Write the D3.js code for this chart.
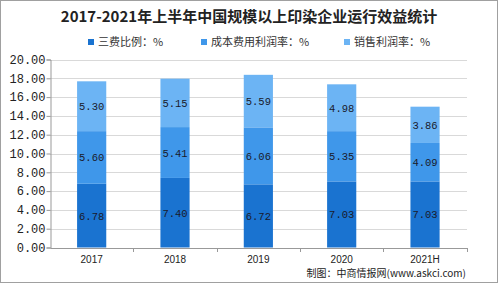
<!DOCTYPE html>
<html>
<head>
<meta charset="utf-8">
<script src="https://cdn.jsdelivr.net/npm/d3@7/dist/d3.min.js"></script>
<style>
  body { margin: 0; background: #fff; }
  svg { display: block; }
</style>
</head>
<body>
<div id="chart"></div>
<script>
const years = ['2017', '2018', '2019', '2020', '2021H'];
const sanfei = [6.78, 7.40, 6.72, 7.03, 7.03];      // 三费比例
const chengben = [5.60, 5.41, 6.06, 5.35, 4.09];    // 成本费用利润率
const xiaoshou = [5.30, 5.15, 5.59, 4.98, 3.86];    // 销售利润率
const seriesNames = ['三费比例：%', '成本费用利润率：%', '销售利润率：%'];
const yTicks = [0, 2, 4, 6, 8, 10, 12, 14, 16, 18, 20];

const COLORS = ['#1a73d0', '#3f97ea', '#6cb4f4'];
const W = 499, H = 287;
const margin = {top: 59.5, right: 32, bottom: 39.5, left: 50};

const svg = d3.select('#chart').append('svg')
  .attr('width', W)
  .attr('height', H);

// outer frame
svg.append('rect')
  .attr('x', 0.5).attr('y', 0.5)
  .attr('width', W - 2).attr('height', H - 5)
  .attr('fill', '#fff')
  .attr('stroke', '#a0a0a0');

svg.append('text')
  .attr('x', 249).attr('y', 22)
  .attr('text-anchor', 'middle')
  .style('font-family', '"Noto Sans CJK SC", sans-serif')
  .style('font-weight', 'bold')
  .style('font-size', '15px')
  .style('fill', '#222')
  .text('2017-2021年上半年中国规模以上印染企业运行效益统计');

// legend
const legendX = [88, 201, 344];
seriesNames.forEach((name, i) => {
  const g = svg.append('g').attr('transform', `translate(${legendX[i]},39)`);
  g.append('rect').attr('width', 6).attr('height', 6).attr('fill', COLORS[i]);
  g.append('text')
    .attr('x', 10).attr('y', 6.5)
    .style('font-family', '"Noto Sans CJK SC", sans-serif')
    .style('font-size', '11px')
    .style('fill', '#333')
    .text(name);
});

const x = d3.scaleBand()
  .domain(years)
  .range([margin.left, W - margin.right - 0.3])
  .paddingInner(0.65)
  .paddingOuter(0.325);

const y = d3.scaleLinear()
  .domain([0, 20])
  .range([H - margin.bottom, margin.top]);

// gridlines
svg.append('g')
  .selectAll('line')
  .data(yTicks.slice(1))
  .join('line')
  .attr('x1', margin.left).attr('x2', W - margin.right)
  .attr('y1', d => Math.round(y(d)) + 0.5).attr('y2', d => Math.round(y(d)) + 0.5)
  .attr('stroke', '#d9d9d9');

const stackData = years.map((yr, i) => ({year: yr, s0: sanfei[i], s1: chengben[i], s2: xiaoshou[i]}));
const stack = d3.stack().keys(['s0', 's1', 's2'])(stackData);

const layers = svg.append('g')
  .selectAll('g')
  .data(stack)
  .join('g')
  .attr('fill', (d, i) => COLORS[i]);

layers.selectAll('rect')
  .data(d => d)
  .join('rect')
  .attr('x', d => x(d.data.year))
  .attr('width', x.bandwidth())
  .attr('y', d => y(d[1]))
  .attr('height', d => y(d[0]) - y(d[1]));

layers.selectAll('text')
  .data(d => d)
  .join('text')
  .attr('x', d => x(d.data.year) + x.bandwidth() / 2)
  .attr('y', d => (y(d[0]) + y(d[1])) / 2 + 4)
  .attr('text-anchor', 'middle')
  .style('font-family', '"Liberation Mono", monospace')
  .style('font-size', '10.5px')
  .style('fill', '#1a1a2a')
  .text(d => (d[1] - d[0]).toFixed(2));

// y axis
const yAxis = svg.append('g')
  .attr('transform', `translate(${margin.left + 0.5},0)`)
  .call(d3.axisLeft(y).tickValues(yTicks).tickSize(4).tickFormat(d3.format('.2f')));
yAxis.select('.domain').attr('stroke', '#999');
yAxis.selectAll('.tick line').attr('stroke', '#999');
yAxis.selectAll('.tick text')
  .attr('x', -5)
  .style('font-family', '"Liberation Mono", monospace')
  .style('font-size', '12px')
  .style('fill', '#222');

// x axis
const xAxis = svg.append('g')
  .attr('transform', `translate(0,${H - margin.bottom + 0.5})`)
  .call(d3.axisBottom(x).tickSize(0));
xAxis.select('.domain').attr('stroke', '#999');
xAxis.selectAll('.tick text')
  .attr('dy', 0)
  .attr('y', 15)
  .style('font-family', '"Liberation Sans", sans-serif')
  .style('font-size', '10px')
  .style('fill', '#222');

// category separators
const step = x.step();
const seps = d3.range(0, years.length + 1).map(i => margin.left + x.paddingOuter() * step - x.paddingInner() * step / 2 + i * step);
xAxis.selectAll('.sep')
  .data(seps.slice(1))
  .join('line')
  .attr('class', 'sep')
  .attr('x1', d => Math.round(d) + 0.5).attr('x2', d => Math.round(d) + 0.5)
  .attr('y1', 0).attr('y2', 4)
  .attr('stroke', '#999');

svg.append('text')
  .attr('x', 466).attr('y', 277)
  .attr('text-anchor', 'end')
  .style('font-family', '"Noto Sans CJK SC", sans-serif')
  .style('font-size', '10px')
  .style('fill', '#222')
  .text('制图：中商情报网(www.askci.com)');
</script>
</body>
</html>
